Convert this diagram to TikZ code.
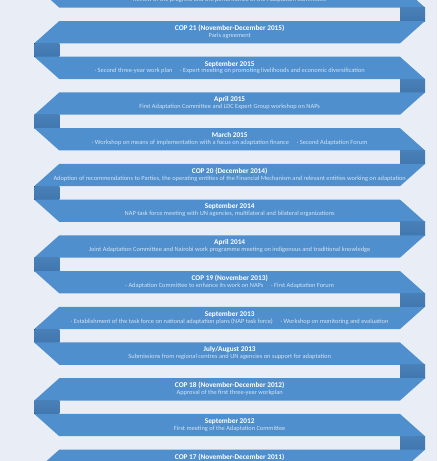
\documentclass[tikz,border=0pt]{standalone}
\usepackage{fontspec}
\setmainfont{Carlito}
\definecolor{bg}{HTML}{E9EEF6}
\definecolor{bandblue}{HTML}{4F8FCD}
\definecolor{foldtop}{HTML}{4A80B8}
\definecolor{foldmid}{HTML}{386BA0}
\definecolor{foldbot}{HTML}{3F77AE}
\definecolor{subtxt}{HTML}{D3E3F3}
\tikzset{
  bandshape/.style={fill=bandblue, draw=none},
  foldshape/.style={top color=foldtop, middle color=foldmid, bottom color=foldbot, draw=none},
  titletext/.style={font=\bfseries\fontsize{7.3}{8}\selectfont, text=white, inner sep=0pt, anchor=center},
  subtext/.style={font=\fontsize{6.4}{7}\selectfont, text=subtxt, inner sep=0pt, anchor=center},
}
\newcommand\ribbonshape[1]{%
  \pgfmathsetmacro\bandtop{21+35.72*(#1)}%
  \pgfmathsetmacro\bandbot{\bandtop+22.3}%
  \pgfmathsetmacro\foldbottom{\bandtop+35.72}%
  \ifodd #1\relax
    \fill[bandshape] (34.3,\bandtop) -- (400,\bandtop) -- (425,\bandbot) -- (59.3,\bandbot) -- cycle;
    \fill[foldshape] (400,\bandbot) rectangle (425,\foldbottom);
  \else
    \fill[bandshape] (59.3,\bandtop) -- (425,\bandtop) -- (400,\bandbot) -- (34.3,\bandbot) -- cycle;
    \fill[foldshape] (34.3,\bandbot) rectangle (59.3,\foldbottom);
  \fi
}
\newcommand\ribbontitle[3]{%
  \pgfmathsetmacro\bandtop{21+35.72*(#1)}%
  \node[titletext] (#2) at (229.7,{\bandtop+7.3}) {#3};
}
\newcommand\ribbonsub[3]{%
  \pgfmathsetmacro\bandtop{21+35.72*(#1)}%
  \node[subtext] (#2) at (229.7,{\bandtop+14.5}) {#3};
}
\newcommand\bulletgap{\hspace{1.2em}}
\begin{document}
\begin{tikzpicture}[x=1pt,y=-1pt]
\useasboundingbox (0,0) rectangle (437,461);
\clip (0,0) rectangle (437,461);
\fill[bg] (0,0) rectangle (437,461);
\foreach \k in {-1,0,...,12} {\ribbonshape{\k}}
\ribbonsub{-1}{s-1}{Review of the progress and the performance of the Adaptation Committee}
\ribbontitle{0}{t0}{COP 21 (November-December 2015)}
\ribbonsub{0}{s0}{Paris agreement}
\ribbontitle{1}{t1}{September 2015}
\ribbonsub{1}{s1}{· Second three-year work plan\bulletgap· Expert meeting on promoting livelihoods and economic diversification}
\ribbontitle{2}{t2}{April 2015}
\ribbonsub{2}{s2}{First Adaptation Committee and LDC Expert Group workshop on NAPs}
\ribbontitle{3}{t3}{March 2015}
\ribbonsub{3}{s3}{· Workshop on means of implementation with a focus on adaptation finance\bulletgap· Second Adaptation Forum}
\ribbontitle{4}{t4}{COP 20 (December 2014)}
\ribbonsub{4}{s4}{Adoption of recommendations to Parties, the operating entities of the Financial Mechanism and relevant entities working on adaptation}
\ribbontitle{5}{t5}{September 2014}
\ribbonsub{5}{s5}{NAP task force meeting with UN agencies, multilateral and bilateral organizations}
\ribbontitle{6}{t6}{April 2014}
\ribbonsub{6}{s6}{Joint Adaptation Committee and Nairobi work programme meeting on indigenous and traditional knowledge}
\ribbontitle{7}{t7}{COP 19 (November 2013)}
\ribbonsub{7}{s7}{· Adaptation Committee to enhance its work on NAPs\bulletgap· First Adaptation Forum}
\ribbontitle{8}{t8}{September 2013}
\ribbonsub{8}{s8}{· Establishment of the task force on national adaptation plans (NAP task force)\bulletgap· Workshop on monitoring and evaluation}
\ribbontitle{9}{t9}{July/August 2013}
\ribbonsub{9}{s9}{Submissions from regional centres and UN agencies on support for adaptation}
\ribbontitle{10}{t10}{COP 18 (November-December 2012)}
\ribbonsub{10}{s10}{Approval of the first three-year workplan}
\ribbontitle{11}{t11}{September 2012}
\ribbonsub{11}{s11}{First meeting of the Adaptation Committee}
\ribbontitle{12}{t12}{COP 17 (November-December 2011)}
\end{tikzpicture}
\end{document}
